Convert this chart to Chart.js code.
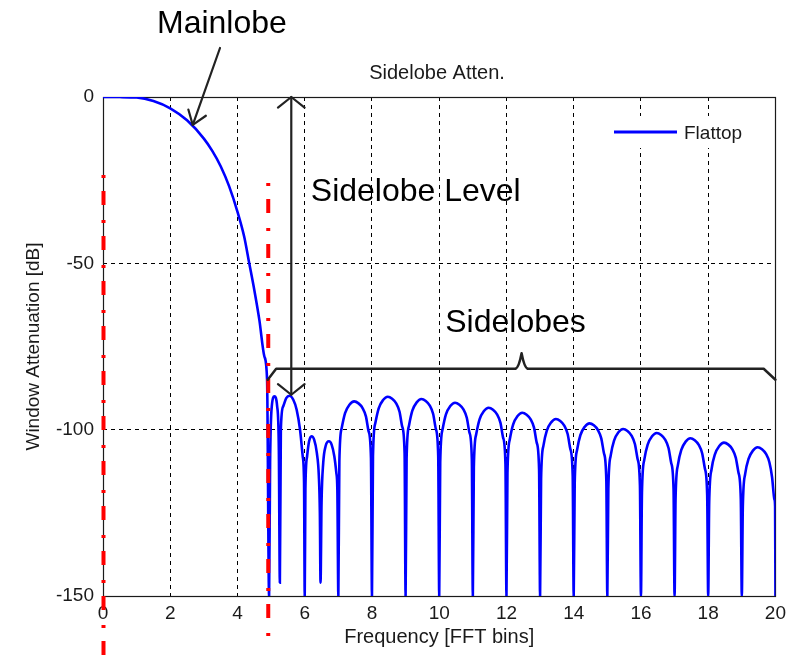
<!DOCTYPE html>
<html>
<head>
<meta charset="utf-8">
<title>Flattop window - sidelobe attenuation</title>
<script src="https://cdn.jsdelivr.net/npm/chart.js@4.4.0/dist/chart.umd.min.js"></script>
<style>
  html, body { margin: 0; padding: 0; background: #fff; }
  #wrap { width: 792px; height: 656px; }
</style>
</head>
<body>
<div id="wrap"><canvas id="chart" width="792" height="656"></canvas></div>
<script>
// Flattop window spectrum, attenuation in dB vs. frequency in FFT bins
const mainlobeBins = [0, 0.5, 1.0, 1.5, 2.0, 2.5, 3.0, 3.25, 3.5, 3.75, 4.0, 4.2, 4.35, 4.5, 4.65, 4.8, 4.88];
const mainlobeDb   = [0, -0.02, -0.15, -1.2, -3.4, -7, -12.5, -16.2, -20.8, -26.8, -34.5, -42, -50, -58, -67, -78, -85];

// first few close-in lobes, then one lobe per bin out to 20
const sidelobeBins = [
  4.94, 4.97, 5.02, 5.1, 5.18, 5.23, 5.26,
  5.29, 5.36, 5.45, 5.55, 5.66, 5.76, 5.86, 5.94, 5.98, 6,
  6.02, 6.07, 6.13, 6.2, 6.28, 6.36, 6.42, 6.45, 6.47,
  6.5, 6.55, 6.62, 6.72, 6.8, 6.88, 6.94, 6.97, 7,
  7.03, 7.1, 7.2, 7.33, 7.47, 7.6, 7.72, 7.82, 7.9, 7.97, 8,
  8.03, 8.1, 8.2, 8.33, 8.47, 8.6, 8.72, 8.82, 8.9, 8.97, 9,
  9.03, 9.1, 9.2, 9.33, 9.47, 9.6, 9.72, 9.82, 9.9, 9.97, 10,
  10.03, 10.1, 10.2, 10.33, 10.47, 10.6, 10.72, 10.82, 10.9, 10.97, 11,
  11.03, 11.1, 11.2, 11.33, 11.47, 11.6, 11.72, 11.82, 11.9, 11.97, 12,
  12.03, 12.1, 12.2, 12.33, 12.47, 12.6, 12.72, 12.82, 12.9, 12.97, 13,
  13.03, 13.1, 13.2, 13.33, 13.47, 13.6, 13.72, 13.82, 13.9, 13.97, 14,
  14.03, 14.1, 14.2, 14.33, 14.47, 14.6, 14.72, 14.82, 14.9, 14.97, 15,
  15.03, 15.1, 15.2, 15.33, 15.47, 15.6, 15.72, 15.82, 15.9, 15.97, 16,
  16.03, 16.1, 16.2, 16.33, 16.47, 16.6, 16.72, 16.82, 16.9, 16.97, 17,
  17.03, 17.1, 17.2, 17.33, 17.47, 17.6, 17.72, 17.82, 17.9, 17.97, 18,
  18.03, 18.1, 18.2, 18.33, 18.47, 18.6, 18.72, 18.82, 18.9, 18.97, 19,
  19.03, 19.1, 19.2, 19.33, 19.47, 19.6, 19.72, 19.82, 19.9, 19.97, 19.99, 20
];
const sidelobeDb = [
  -150, -110, -93, -90, -93, -106, -146,
  -100, -93, -90.5, -89.8, -91, -94, -100, -108, -116, -150,
  -118, -108, -103.5, -102, -103, -107, -114, -125, -146,
  -122, -110, -105, -103.5, -104.5, -108, -113, -118, -150,
  -109.5, -99.5, -95, -92.5, -91.5, -92.1, -93.5, -96, -100.5, -108.5, -150,
  -108, -98, -93.6, -91.1, -90.1, -90.7, -92.1, -94.6, -99.1, -107, -150,
  -108.8, -98.8, -94.3, -91.8, -90.8, -91.4, -92.8, -95.3, -99.8, -107.8, -150,
  -109.9, -99.9, -95.4, -92.9, -91.9, -92.5, -93.9, -96.4, -100.9, -108.9, -150,
  -111.4, -101.4, -96.9, -94.4, -93.4, -94, -95.4, -97.9, -102.4, -110.4, -150,
  -112.9, -102.9, -98.4, -95.9, -94.9, -95.5, -96.9, -99.4, -103.9, -111.9, -150,
  -114.8, -104.8, -100.3, -97.8, -96.8, -97.4, -98.8, -101.3, -105.8, -113.8, -150,
  -116.1, -106.1, -101.6, -99.1, -98.1, -98.7, -100.1, -102.6, -107.1, -115.1, -150,
  -117.8, -107.8, -103.3, -100.8, -99.8, -100.4, -101.8, -104.3, -108.8, -116.8, -150,
  -119, -109, -104.5, -102, -101, -101.6, -103, -105.5, -110, -118, -150,
  -120.6, -110.6, -106.1, -103.6, -102.6, -103.2, -104.6, -107.1, -111.6, -119.6, -150,
  -121.9, -111.9, -107.4, -104.9, -103.9, -104.5, -105.9, -108.4, -112.9, -120.9, -150,
  -123.3, -113.3, -108.8, -106.3, -105.3, -105.9, -107.3, -109.8, -114.3, -121, -123, -150
];

const xTicks = [0, 2, 4, 6, 8, 10, 12, 14, 16, 18, 20];
const yTicks = [-150, -100, -50, 0];

// annotation anchors (bins / dB)
const markerBins = [0, 4.9];          // red dash-dot markers
const levelArrowBin = 5.6;            // "Sidelobe Level" arrow
const levelArrowDb = [0, -89.5];
const bracketDb = -81.7;
const bracketBins = [4.9, 5.15, 12.25, 12.45, 12.65, 19.65, 20];

const FONT = "'Liberation Sans', Arial, Helvetica, sans-serif";
const INK = '#1a1a1a';

const points = mainlobeBins.map((x, i) => ({ x, y: mainlobeDb[i] }))
  .concat(sidelobeBins.map((x, i) => ({ x, y: sidelobeDb[i] })));

function arrowHead(ctx, fx, fy, tx, ty, len, ang) {
  const a = Math.atan2(ty - fy, tx - fx);
  ctx.beginPath();
  ctx.moveTo(tx - len * Math.cos(a - ang), ty - len * Math.sin(a - ang));
  ctx.lineTo(tx, ty);
  ctx.lineTo(tx - len * Math.cos(a + ang), ty - len * Math.sin(a + ang));
  ctx.stroke();
}

const annotations = {
  id: 'annotations',
  beforeDatasetsDraw(chart) {
    // axes box
    const { ctx, chartArea: a } = chart;
    ctx.save();
    ctx.strokeStyle = INK;
    ctx.lineWidth = 1.2;
    ctx.strokeRect(Math.round(a.left) + 0.5, Math.round(a.top) + 0.5,
      Math.round(a.width), Math.round(a.height));
    ctx.restore();
  },
  afterDraw(chart) {
    const { ctx } = chart;
    const xs = chart.scales.x, ys = chart.scales.y;
    const px = v => xs.getPixelForValue(v);
    const py = v => ys.getPixelForValue(v);

    // red dash-dot markers
    ctx.save();
    ctx.strokeStyle = '#ff0000';
    ctx.lineWidth = 4;
    ctx.setLineDash([3, 13, 14, 15]);
    const markerSpans = [[175, 656], [183, 645]];
    markerBins.forEach((b, i) => {
      ctx.beginPath();
      ctx.moveTo(px(b) + 0.5, markerSpans[i][0]);
      ctx.lineTo(px(b) + 0.5, markerSpans[i][1]);
      ctx.stroke();
    });
    ctx.restore();

    ctx.save();
    ctx.strokeStyle = '#222';
    ctx.lineCap = 'round';
    ctx.lineJoin = 'round';

    // Mainlobe arrow
    ctx.lineWidth = 2.2;
    const mx0 = 220, my0 = 48, mx1 = px(2.67), my1 = py(-8.4);
    ctx.beginPath();
    ctx.moveTo(mx0, my0);
    ctx.lineTo(mx1, my1);
    ctx.stroke();
    arrowHead(ctx, mx0, my0, mx1, my1, 16, 0.62);

    // Sidelobe level double arrow
    const ax = px(levelArrowBin), ay0 = py(levelArrowDb[0]), ay1 = py(levelArrowDb[1]);
    ctx.beginPath();
    ctx.moveTo(ax, ay0);
    ctx.lineTo(ax, ay1);
    ctx.stroke();
    arrowHead(ctx, ax, ay1, ax, ay0, 17, 0.9);
    arrowHead(ctx, ax, ay0, ax, ay1, 17, 0.9);

    // Sidelobes bracket
    ctx.lineWidth = 2.5;
    const by = py(bracketDb);
    ctx.beginPath();
    ctx.moveTo(px(bracketBins[0]), py(-85));
    ctx.lineTo(px(bracketBins[1]), by);
    ctx.lineTo(px(bracketBins[2]), by);
    ctx.quadraticCurveTo(px(bracketBins[3]) - 3, by, px(bracketBins[3]), py(-77));
    ctx.quadraticCurveTo(px(bracketBins[3]) + 3, by, px(bracketBins[4]), by);
    ctx.lineTo(px(bracketBins[5]), by);
    ctx.lineTo(px(bracketBins[6]), py(-85));
    ctx.stroke();
    ctx.restore();

    // labels
    ctx.save();
    ctx.fillStyle = '#000';
    ctx.textBaseline = 'alphabetic';
    ctx.font = '32px ' + FONT;
    ctx.fillText('Mainlobe', 157, 33);
    ctx.fillText('Sidelobe Level', px(6.18), py(-31.4));
    ctx.fillText('Sidelobes', px(10.18), py(-70.5));

    ctx.fillStyle = INK;
    ctx.font = '20px ' + FONT;
    ctx.textAlign = 'center';
    ctx.fillText('Sidelobe Atten.', 437, 79);

    // legend
    ctx.textAlign = 'left';
    ctx.fillStyle = '#fff';
    ctx.fillRect(600, 116, 172, 32);
    ctx.strokeStyle = '#0000ff';
    ctx.lineWidth = 3;
    ctx.beginPath();
    ctx.moveTo(614, 132);
    ctx.lineTo(677, 132);
    ctx.stroke();
    ctx.fillStyle = INK;
    ctx.font = '19px ' + FONT;
    ctx.fillText('Flattop', 684, 139);
    ctx.restore();
  }
};

new Chart(document.getElementById('chart'), {
  type: 'scatter',
  data: {
    datasets: [{
      label: 'Flattop',
      data: points,
      showLine: true,
      borderColor: '#0000ff',
      borderWidth: 2.6,
      pointRadius: 0,
      cubicInterpolationMode: 'monotone'
    }]
  },
  options: {
    responsive: false,
    animation: false,
    layout: { padding: { top: 97, right: 13, left: 0, bottom: 0 } },
    plugins: {
      legend: { display: false },
      tooltip: { enabled: false }
    },
    scales: {
      x: {
        type: 'linear',
        min: 0,
        max: 20,
        afterBuildTicks: s => { s.ticks = xTicks.map(v => ({ value: v })); },
        afterFit: s => { s.height = 60; },
        grid: { color: '#000', lineWidth: 1, drawTicks: false },
        border: { display: false, dash: [4, 4] },
        ticks: { color: INK, padding: 6, font: { family: FONT, size: 19 } },
        title: {
          display: true,
          text: 'Frequency [FFT bins]',
          color: INK,
          font: { family: FONT, size: 20 },
          padding: { top: 0, bottom: 7 }
        }
      },
      y: {
        min: -150,
        max: 0,
        afterBuildTicks: s => { s.ticks = yTicks.map(v => ({ value: v })); },
        afterFit: s => { s.width = 103; },
        grid: { color: '#000', lineWidth: 1, drawTicks: false },
        border: { display: false, dash: [4, 4] },
        ticks: { color: INK, padding: 9, font: { family: FONT, size: 19 } },
        title: {
          display: true,
          text: 'Window Attenuation [dB]',
          color: INK,
          font: { family: FONT, size: 19 },
          padding: { top: 22, bottom: 0 }
        }
      }
    }
  },
  plugins: [annotations]
});
</script>
</body>
</html>
